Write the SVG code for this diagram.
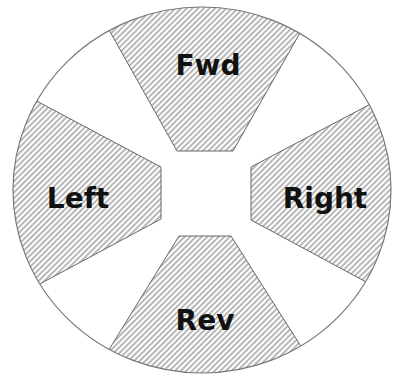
<svg xmlns="http://www.w3.org/2000/svg" width="396" height="377" viewBox="0 0 396 377">
<style>
.seg{fill:url(#hatch);stroke:#666;stroke-width:1}
.rim{fill:none;stroke:#777;stroke-width:1.2}
.lbl{font-family:"DejaVu Sans",Verdana,sans-serif;font-weight:bold;font-size:28px;fill:#111;text-anchor:middle}
</style>
<defs>
<pattern id="hatch" patternUnits="userSpaceOnUse" width="4" height="4" patternTransform="rotate(-45)">
<rect width="4" height="4" fill="#fff"/>
<line x1="0" y1="2" x2="4" y2="2" stroke="#a0a0a0" stroke-width="1.5"/>
</pattern>
<clipPath id="disc"><ellipse cx="202" cy="190" rx="189" ry="183"/></clipPath>
</defs>
<rect width="396" height="377" fill="#fff"/>
<ellipse cx="202" cy="190" rx="189" ry="183" fill="#fff"/>
<g clip-path="url(#disc)">
<g id="fwd"><polygon class="seg" points="177,151 81,-20 330,-20 233,151"/></g>
<g id="rev"><polygon class="seg" points="179,236 231,236 335,400 78,400"/></g>
<g id="left"><polygon class="seg" points="161,167 -20,71 -20,316 161,219"/></g>
<g id="right"><polygon class="seg" points="251,167 420,78 420,311 251,220"/></g>
</g>
<ellipse class="rim" cx="202" cy="190" rx="189" ry="183"/>
<g id="labels">
<text class="lbl" x="208" y="75">Fwd</text>
<text class="lbl" x="78" y="208">Left</text>
<text class="lbl" x="325" y="208">Right</text>
<text class="lbl" x="205" y="330">Rev</text>
</g>
</svg>
